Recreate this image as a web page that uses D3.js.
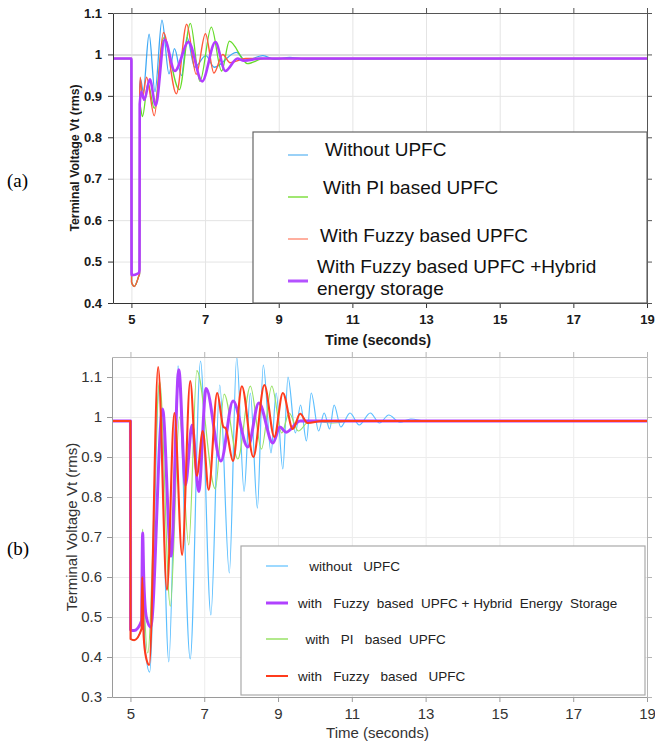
<!DOCTYPE html>
<html>
<head>
<meta charset="utf-8">
<script src="https://cdn.jsdelivr.net/npm/d3@7"></script>
<style>
body { margin: 0; background: #fff; }
svg { display: block; font-family: "Liberation Sans", Arial, sans-serif; }
.pre { white-space: pre; }
</style>
</head>
<body>
<svg id="chart" width="655" height="745"></svg>
<script>
var xTicks = [5, 7, 9, 11, 13, 15, 17, 19];
var yTicksA = [0.4, 0.5, 0.6, 0.7, 0.8, 0.9, 1, 1.1];
var yTicksB = [0.3, 0.4, 0.5, 0.6, 0.7, 0.8, 0.9, 1, 1.1];

// panel (a): [time, voltage]
var aWithout = [[4.5,.99],[5.0,.99],[5.004,.45],[5.08,.44],[5.2,.465],[5.22,.47],[5.225,.92],[5.25,.94],[5.32,.91],[5.48,1.049],[5.64,.91],[5.83,1.083],[6.02,.953],[6.17,1.014],[6.36,.949],[6.51,1.041],[6.72,.969],[7.02,.997],[7.25,.969],[7.85,1.005],[8.1,.985],[8.57,.997],[8.9,.988],[9.3,.993],[9.7,.989],[19,.99]];
var aPI = [[4.5,.99],[5.0,.99],[5.004,.45],[5.08,.44],[5.2,.465],[5.22,.47],[5.225,.88],[5.3,.85],[5.45,.93],[5.62,.87],[5.87,1.04],[6.3,.915],[6.6,1.075],[6.86,.935],[7.17,1.066],[7.45,.96],[7.66,1.032],[8.15,.978],[8.6,.99],[19,.99]];
var aFuzzy = [[4.5,.99],[5.0,.99],[5.004,.45],[5.08,.44],[5.2,.465],[5.22,.47],[5.225,.9],[5.24,.945],[5.3,.895],[5.41,.945],[5.62,.852],[5.87,1.053],[6.22,.905],[6.5,1.073],[6.76,.952],[7.01,1.05],[7.24,.955],[7.48,1.0],[7.68,.98],[8.1,.99],[19,.99]];
var aHybrid = [[4.5,.99],[5.0,.99],[5.004,.467],[5.2,.472],[5.22,.48],[5.225,.88],[5.27,.91],[5.35,.89],[5.5,.94],[5.66,.877],[5.9,1.036],[6.18,.96],[6.55,1.03],[6.92,.935],[7.28,1.03],[7.55,.96],[7.88,.99],[8.05,.985],[8.5,.99],[19,.99]];

// panel (b)
var bWithout = [[4.5,.99],[5.0,.99],[5.004,.445],[5.1,.442],[5.3,.47],[5.33,.58],[5.4,.42],[5.52,.362],[5.78,1.08],[6.04,.388],[6.29,1.128],[6.62,.395],[6.9,1.14],[7.18,.505],[7.42,1.08],[7.68,.61],[7.88,1.15],[8.08,.814],[8.25,1.06],[8.44,.772],[8.6,1.13],[8.81,.91],[8.95,1.06],[9.13,.87],[9.27,1.1],[9.47,.96],[9.61,1.03],[9.77,.94],[9.9,1.06],[10.1,.965],[10.25,1.01],[10.4,.97],[10.52,1.03],[10.7,.975],[10.95,1.01],[11.2,.98],[11.5,1.01],[11.75,.985],[12.0,1.005],[12.3,.987],[12.6,.995],[13,.99],[19,.99]];
var bPI = [[4.5,.99],[5.0,.99],[5.004,.445],[5.1,.442],[5.3,.47],[5.33,.72],[5.37,.56],[5.47,.41],[5.79,1.09],[6.08,.527],[6.33,1.0],[6.58,.68],[6.8,1.116],[7.3,.82],[7.54,1.057],[7.91,.895],[8.25,1.077],[8.55,.92],[8.83,1.077],[9.1,.96],[9.3,1.01],[9.55,.965],[9.85,.99],[10.5,.985],[11,.99],[19,.99]];
var bHybrid = [[4.5,.99],[5.0,.99],[5.004,.468],[5.1,.466],[5.3,.49],[5.33,.71],[5.36,.6],[5.43,.5],[5.55,.475],[5.87,1.02],[6.1,.652],[6.31,1.118],[6.49,.83],[6.67,.98],[6.85,.814],[7.05,1.071],[7.45,.89],[7.78,1.04],[8.18,.925],[8.48,1.035],[8.86,.935],[9.05,.975],[9.22,.962],[9.6,.99],[19,.99]];
var bFuzzy = [[4.5,.99],[5.0,.99],[5.004,.445],[5.1,.442],[5.3,.47],[5.32,.6],[5.36,.45],[5.42,.40],[5.51,.38],[5.75,1.125],[5.99,.568],[6.19,1.01],[6.4,.655],[6.62,1.09],[6.8,.853],[6.96,.965],[7.12,.818],[7.35,1.06],[7.52,.975],[7.58,.972],[7.78,.89],[8.02,1.077],[8.33,.9],[8.63,1.08],[8.9,.95],[9.13,1.06],[9.4,.97],[9.6,1.008],[9.8,.985],[10.2,.99],[19,.99]];

var legendA = [["Without UPFC"], ["With PI based UPFC"], ["With Fuzzy based UPFC"], ["With Fuzzy based UPFC +Hybrid", "energy storage"]];
var legendB = ["   without   UPFC", "with   Fuzzy  based  UPFC + Hybrid  Energy  Storage", "  with   PI   based  UPFC", "with   Fuzzy   based   UPFC"];

var svg = d3.select("#chart");

function fmt(d) { return String(+d.toFixed(1)); }

function drawPanel(cfg) {
    var g = svg.append("g");
    var x = d3.scaleLinear().domain([4.5, 19]).range([cfg.left, cfg.right]),
        y = d3.scaleLinear().domain(cfg.yDomain).range([cfg.bottom, cfg.top]);
    var h = cfg.bottom - cfg.top, w = cfg.right - cfg.left;

    // grid
    g.append("g")
        .attr("transform", "translate(0," + cfg.bottom + ")")
        .call(d3.axisBottom(x).tickValues(xTicks).tickSize(-h).tickFormat(""))
        .call(function(s) { s.select(".domain").remove(); })
        .selectAll("line").attr("stroke", cfg.grid);
    g.append("g")
        .attr("transform", "translate(" + cfg.left + ",0)")
        .call(d3.axisLeft(y).tickValues(cfg.yTicks).tickSize(-w).tickFormat(""))
        .call(function(s) { s.select(".domain").remove(); })
        .selectAll("line").attr("stroke", function(d) { return d === 1 && cfg.oneGrid ? cfg.oneGrid : cfg.grid; })
        .attr("stroke-width", function(d) { return d === 1 && cfg.oneGrid ? 2 : 1; });

    var clipId = "clip" + cfg.name;
    g.append("clipPath").attr("id", clipId)
        .append("rect").attr("x", cfg.left).attr("y", cfg.top).attr("width", w).attr("height", h);

    var line = d3.line()
        .x(function(d) { return x(d[0]); })
        .y(function(d) { return y(d[1]); })
        .curve(d3.curveMonotoneX);

    g.append("g").attr("clip-path", "url(#" + clipId + ")")
        .selectAll("path")
        .data(cfg.series)
        .enter().append("path")
            .attr("d", function(s) { return line(s.data); })
            .attr("fill", "none")
            .attr("stroke", function(s) { return s.color; })
            .attr("stroke-width", function(s) { return s.width; })
            .attr("stroke-linejoin", "round");

    // frame and axes
    var axB = g.append("g").attr("transform", "translate(0," + cfg.bottom + ")")
        .call(d3.axisBottom(x).tickValues(xTicks).tickSize(5).tickSizeOuter(0).tickPadding(cfg.xPad).tickFormat(fmt));
    var axL = g.append("g").attr("transform", "translate(" + cfg.left + ",0)")
        .call(d3.axisLeft(y).tickValues(cfg.yTicks).tickSize(5).tickSizeOuter(0).tickPadding(cfg.yPad).tickFormat(fmt));
    var axT = g.append("g").attr("transform", "translate(0," + cfg.top + ")")
        .call(d3.axisTop(x).tickValues(xTicks).tickSize(5).tickSizeOuter(0).tickFormat(""));
    var axR = g.append("g").attr("transform", "translate(" + cfg.right + ",0)")
        .call(d3.axisRight(y).tickValues(cfg.yTicks).tickSize(5).tickSizeOuter(0).tickFormat(""));
    [axB, axL, axT, axR].forEach(function(a, i) {
        a.select(".domain").attr("stroke", i < 2 ? cfg.axis : cfg.axis2);
        a.selectAll(".tick line").attr("stroke", i < 2 ? cfg.axis : cfg.axis2);
        a.selectAll("text")
            .style("font-family", "'Liberation Sans', Arial, sans-serif")
            .style("font-size", cfg.tickSize + "px")
            .style("font-weight", cfg.weight)
            .attr("fill", cfg.text);
    });

    g.append("text")
        .attr("x", (cfg.left + cfg.right) / 2 - 2)
        .attr("y", cfg.xTitleY)
        .attr("text-anchor", "middle")
        .style("font-size", cfg.xTitleSize + "px")
        .style("font-weight", cfg.weight)
        .attr("fill", cfg.text)
        .text("Time (seconds)");
    g.append("text")
        .attr("transform", "translate(" + cfg.yTitleX + "," + (cfg.top + cfg.bottom) / 2 + ") rotate(-90)")
        .attr("text-anchor", "middle")
        .style("font-size", cfg.yTitleSize + "px")
        .style("font-weight", cfg.weight)
        .attr("fill", cfg.text)
        .text("Terminal Voltage Vt (rms)");

    g.append("text")
        .attr("x", 7).attr("y", cfg.tagY)
        .style("font-family", "'Liberation Serif', 'Times New Roman', serif")
        .style("font-size", "19px")
        .text(cfg.tag);

    return g;
}

var gA = drawPanel({
    name: "a", left: 113, right: 647, top: 13, bottom: 303,
    yDomain: [0.4, 1.1], yTicks: yTicksA,
    grid: "#e4e4e4", oneGrid: "#dcdcdc", axis: "#333", axis2: "#555", text: "#1a1a1a",
    weight: "bold", tickSize: 13, xPad: 7, yPad: 6,
    xTitleY: 345, xTitleSize: 14.5, yTitleX: 79, yTitleSize: 12.3,
    tag: "(a)", tagY: 187,
    series: [
        { data: aWithout, color: "#3ea9f5", width: 1.3 },
        { data: aPI, color: "#66dc2a", width: 1.3 },
        { data: aFuzzy, color: "#ff5a3c", width: 1.4 },
        { data: aHybrid, color: "#b13cff", width: 2.6 }
    ]
});

var gB = drawPanel({
    name: "b", left: 112, right: 647, top: 357, bottom: 697,
    yDomain: [0.3, 1.15], yTicks: yTicksB,
    grid: "#ececec", oneGrid: null, axis: "#9a9a9a", axis2: "#b5b5b5", text: "#333",
    weight: "normal", tickSize: 15, xPad: 6, yPad: 5,
    xTitleY: 738, xTitleSize: 15, yTitleX: 77, yTitleSize: 15,
    tag: "(b)", tagY: 555,
    series: [
        { data: bWithout, color: "#5cbfff", width: 1.2 },
        { data: bPI, color: "#98e266", width: 1.2 },
        { data: bHybrid, color: "#b041ff", width: 3 },
        { data: bFuzzy, color: "#ff3b1c", width: 2.1 }
    ]
});

// legend (a)
var legA = gA.append("g");
legA.append("rect").attr("x", 253).attr("y", 132).attr("width", 394).attr("height", 171)
    .attr("fill", "#fff").attr("stroke", "#666").attr("stroke-width", 1.2);
var legAColors = ["#58b2f2", "#78dd34", "#ff9c88", "#b452ff"],
    legAWidths = [1.2, 1.4, 1.6, 3],
    legALineY = [155, 197, 239, 281],
    legATextX = [325, 323, 320, 317],
    legATextY = [149, 187, 235, 266];
legendA.forEach(function(lbl, i) {
    legA.append("line")
        .attr("x1", 288).attr("x2", 308).attr("y1", legALineY[i]).attr("y2", legALineY[i])
        .attr("stroke", legAColors[i]).attr("stroke-width", legAWidths[i]);
    var t = legA.append("text")
        .attr("x", legATextX[i]).attr("y", legATextY[i])
        .attr("dy", "0.35em")
        .style("font-size", "19px").attr("fill", "#111");
    lbl.forEach(function(s, j) {
        t.append("tspan").attr("x", legATextX[i]).attr("dy", j === 0 ? "0.35em" : "22px").text(s);
    });
});

// legend (b)
var legB = gB.append("g");
legB.append("rect").attr("x", 241).attr("y", 546).attr("width", 404).attr("height", 149)
    .attr("fill", "#fff").attr("stroke", "#aaa").attr("stroke-width", 1.2);
var legBColors = ["#5cbfff", "#b041ff", "#98e266", "#ff3b1c"],
    legBWidths = [1.2, 3, 1.5, 2],
    legBY = [566, 603, 639, 676];
legendB.forEach(function(lbl, i) {
    legB.append("line")
        .attr("x1", 266).attr("x2", 288).attr("y1", legBY[i]).attr("y2", legBY[i])
        .attr("stroke", legBColors[i]).attr("stroke-width", legBWidths[i]);
    legB.append("text")
        .attr("class", "pre")
        .attr("x", 298).attr("y", legBY[i]).attr("dy", "0.35em")
        .style("font-size", "13.5px").attr("fill", "#222")
        .text(lbl);
});
</script>
</body>
</html>
